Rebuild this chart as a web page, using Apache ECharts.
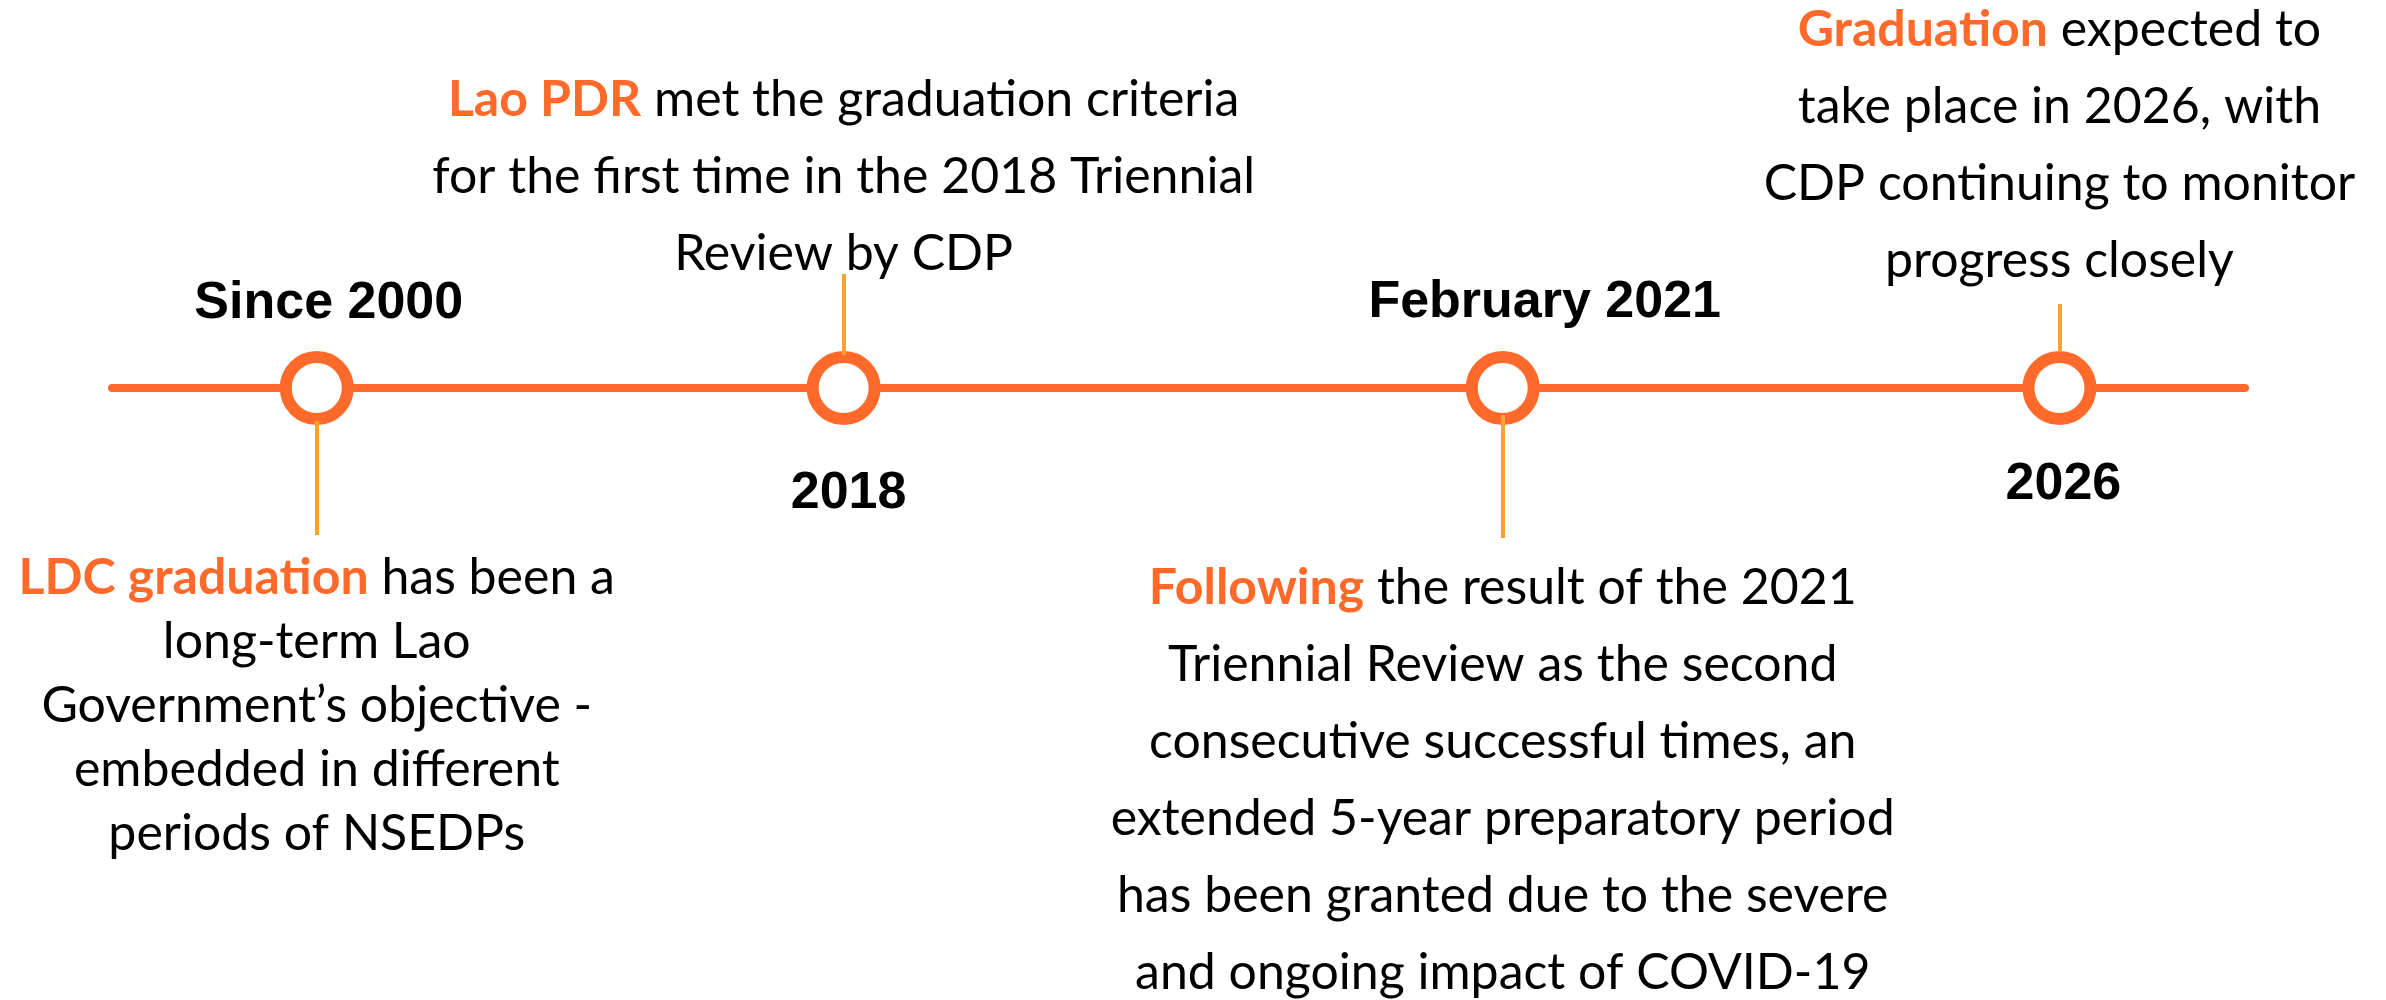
<!DOCTYPE html>
<html>
<head>
<meta charset="utf-8">
<script src="https://cdn.jsdelivr.net/npm/echarts@6/dist/echarts.min.js"></script>
<style>
  html, body { margin: 0; padding: 0; background: #fff; }
  #timeline { width: 2386px; height: 1000px; }
</style>
</head>
<body>
<div id="timeline"></div>
<script>
// timeline data: where each milestone sits on the line (0..100) and its texts
const eventPos = [9.6, 34.3, 65.2, 91.3];
const eventTitles = ['Since 2000', '2018', 'February 2021', '2026'];
const highlights = ['LDC graduation', 'Lao PDR', 'Following', 'Graduation'];
const firstLineRest = [' has been a', ' met the graduation criteria', ' the result of the 2021', ' expected to'];
const otherLines = [
  ['long-term Lao', 'Government’s objective -', 'embedded in different', 'periods of NSEDPs'],
  ['for the first time in the 2018 Triennial', 'Review by CDP'],
  ['Triennial Review as the second', 'consecutive successful times, an', 'extended 5-year preparatory period',
   'has been granted due to the severe', 'and ongoing impact of COVID-19'],
  ['take place in 2026, with', 'CDP continuing to monitor', 'progress closely']
];
// stem (connector) ends, in axis units (+ above the line, - below)
const stemStart = [-0.11, 0.11, -0.09, 0.12];
const stemEnd = [-0.49, 0.38, -0.50, 0.28];

const ORANGE = '#FF6A2A';
const AMBER = '#F4A330';

// per item styling
const titleSide = ['top', 'bottom', 'top', 'bottom'];
const titleDist = [21, 43, 22, 34];
const titleShift = [12, 5, 42, 4];
const descSide = ['bottom', 'top', 'bottom', 'top'];
const descDist = [11, -18, 11, 5];
const descLH = [64, 77, 77, 77];
const BODY = 50;

let myChart = echarts.init(document.getElementById('timeline'));

const descText = i => ['{hl|' + highlights[i] + '}' + firstLineRest[i]].concat(otherLines[i]).join('\n');

let option = {
  backgroundColor: '#fff',
  animation: false,
  grid: { left: 112, right: 141, top: 88, bottom: 312 },
  xAxis: {
    type: 'value', min: 0, max: 100,
    axisLine: { show: true, onZero: true, lineStyle: { color: ORANGE, width: 8 } },
    axisTick: { show: false }, axisLabel: { show: false }, splitLine: { show: false }
  },
  yAxis: {
    type: 'value', min: -1, max: 1, show: false,
    splitLine: { show: false }
  },
  series: [
    {
      name: 'rings',
      type: 'scatter',
      z: 3,
      symbol: 'circle',
      symbolSize: 62,
      itemStyle: { color: '#fff', borderColor: ORANGE, borderWidth: 12, opacity: 1 },
      emphasis: { disabled: true },
      data: eventPos.map((p, i) => ({
        value: [p, 0],
        label: {
          show: true,
          formatter: eventTitles[i],
          position: titleSide[i],
          distance: titleDist[i],
          offset: [titleShift[i], 0],
          fontFamily: 'Liberation Sans',
          fontWeight: 'bold',
          fontSize: 52,
          lineHeight: 52,
          color: '#000'
        }
      }))
    },
    {
      name: 'stems',
      type: 'lines',
      coordinateSystem: 'cartesian2d',
      z: 4,
      lineStyle: { color: AMBER, width: 4, opacity: 1 },
      data: eventPos.map((p, i) => ({ coords: [[p, stemStart[i]], [p, stemEnd[i]]] }))
    },
    {
      name: 'notes',
      type: 'scatter',
      symbolSize: 0,
      itemStyle: { color: 'transparent', opacity: 1 },
      emphasis: { disabled: true },
      data: eventPos.map((p, i) => ({
        value: [p, stemEnd[i]],
        label: {
          show: true,
          formatter: descText(i),
          position: descSide[i],
          distance: descDist[i],
          align: 'center',
          fontFamily: 'Lato',
          fontSize: BODY,
          lineHeight: descLH[i],
          color: '#000',
          rich: {
            hl: { color: ORANGE, fontWeight: 'bold', fontFamily: 'Lato', fontSize: BODY, lineHeight: descLH[i] }
          }
        }
      }))
    }
  ]
};

myChart.setOption(option);
</script>
</body>
</html>
